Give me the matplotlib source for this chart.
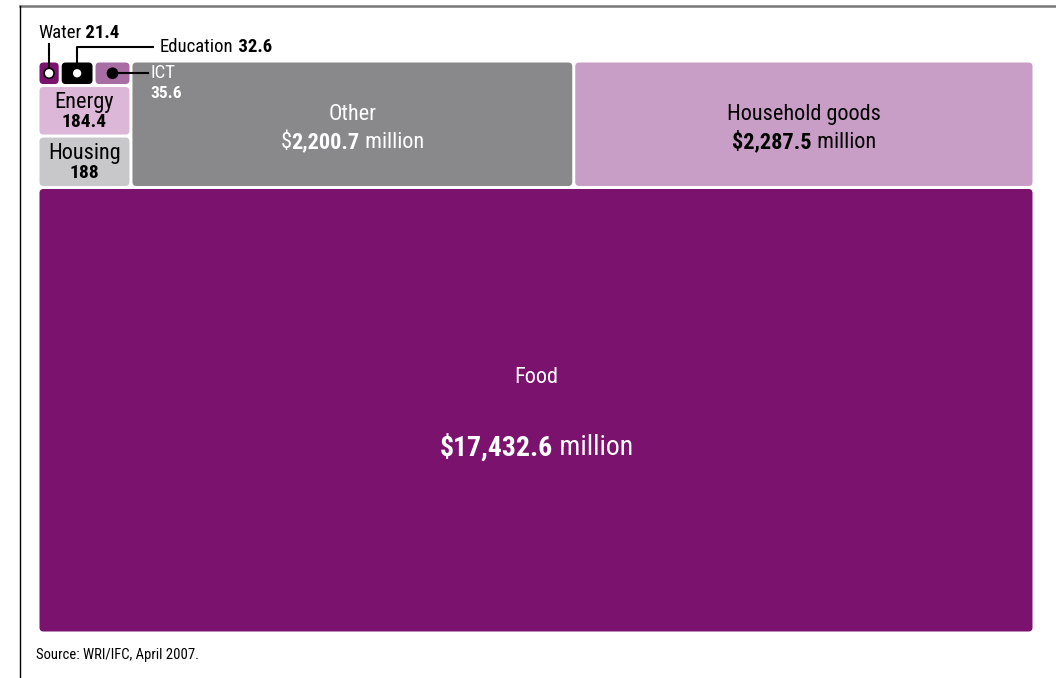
import matplotlib.pyplot as plt
from matplotlib.patches import FancyBboxPatch, Circle
from matplotlib.lines import Line2D
from matplotlib.transforms import ScaledTranslation

plt.rcParams['font.family'] = ['Roboto Condensed', 'Liberation Sans', 'DejaVu Sans']

# Spending by category, $ million
categories = ['Food', 'Household goods', 'Other', 'Housing', 'Energy', 'ICT', 'Education', 'Water']
values = [17432.6, 2287.5, 2200.7, 188, 184.4, 35.6, 32.6, 21.4]
value_text = ['17,432.6', '2,287.5', '2,200.7', '188', '184.4', '35.6', '32.6', '21.4']
colors = ['#7b126e', '#c99ec6', '#89898b', '#c8c8ca', '#dcb7d8', '#a86da3', '#000000', '#7b126e']

val = dict(zip(categories, values))
col = dict(zip(categories, colors))

W, H = 996, 572  # plotting area in pixels
fig = plt.figure(figsize=(10.56, 6.78), dpi=100)
ax = fig.add_axes([38 / 1056, 45 / 678, W / 1056, H / 678])
ax.set_xlim(0, W)
ax.set_ylim(H, 0)
ax.axis('off')

# slice-and-dice treemap layout
rects = {}


def split(groups, x, y, w, h, horizontal):
    total = sum(sum(val[c] for c in g) for g in groups)
    out = []
    for g in groups:
        s = sum(val[c] for c in g) / total
        if horizontal:
            out.append((x, y, w * s, h))
            x += w * s
        else:
            out.append((x, y, w, h * s))
            y += h * s
    return out


small_top = ['Water', 'Education', 'ICT']
small = small_top + ['Energy', 'Housing']
top = small + ['Other', 'Household goods']
top_r, food_r = split([top, ['Food']], 0, 0, W, H, False)
rects['Food'] = food_r
small_r, rects['Other'], rects['Household goods'] = split([small, ['Other'], ['Household goods']], *top_r, True)
st_r, rects['Energy'], rects['Housing'] = split([small_top, ['Energy'], ['Housing']], *small_r, False)
rects['Water'], rects['Education'], rects['ICT'] = split([['Water'], ['Education'], ['ICT']], *st_r, True)

gap = 1.5
for c in categories:
    x, y, w, h = rects[c]
    ax.add_patch(FancyBboxPatch((x + gap, y + gap), w - 2 * gap, h - 2 * gap,
                                boxstyle='round,pad=0,rounding_size=4',
                                facecolor=col[c], edgecolor='none'))

renderer = fig.canvas.get_renderer()


def rich(x, y, parts, color, size, ha='center'):
    texts = [ax.text(x, y, s, fontsize=size, fontweight=wt, color=color,
                     va='center', ha='left') for s, wt in parts]
    widths = [t.get_window_extent(renderer).width for t in texts]
    off = -sum(widths) / 2 if ha == 'center' else 0
    for t, w in zip(texts, widths):
        t.set_transform(ax.transData + ScaledTranslation(off / fig.dpi, 0, fig.dpi_scale_trans))
        off += w


def center(c):
    x, y, w, h = rects[c]
    return x + w / 2, y + h / 2


# big boxes
cx, cy = center('Food')
rich(cx, cy - 33, [('Food', 'normal')], 'white', 16)
rich(cx, cy + 37, [('$17,432.6', 'bold'), (' million', 'normal')], 'white', 20)
cx, cy = center('Other')
rich(cx, cy - 10, [('Other', 'normal')], 'white', 16)
rich(cx, cy + 18, [('$', 'normal'), ('2,200.7', 'bold'), (' million', 'normal')], 'white', 16)
cx, cy = center('Household goods')
rich(cx, cy - 10, [('Household goods', 'normal')], 'black', 16)
rich(cx, cy + 18, [('$2,287.5', 'bold'), (' million', 'normal')], 'black', 16)
for c, i in [('Energy', 4), ('Housing', 3)]:
    cx, cy = center(c)
    rich(cx, cy - 8, [(c, 'normal')], 'black', 16)
    rich(cx, cy + 11, [(value_text[i], 'bold')], 'black', 14)

# small boxes with markers and callouts
cxw, cyw = center('Water')
cxe, cye = center('Education')
cxi, cyi = center('ICT')
ax.plot([cxw, cxw], [cyw, -17], color='black', lw=1.5, zorder=3, clip_on=False)
ax.plot([cxe, cxe, 115], [cye, -14, -14], color='black', lw=1.5, zorder=3, clip_on=False)
ax.plot([cxi, 110], [cyi, cyi], color='black', lw=1.5, zorder=3, clip_on=False)
ax.add_patch(Circle((cxw, cyw), 5, facecolor='white', edgecolor='black', lw=1.2, zorder=4))
ax.add_patch(Circle((cxe, cye), 5, facecolor='white', edgecolor='black', lw=1.2, zorder=4))
ax.add_patch(Circle((cxi, cyi), 5, facecolor='black', edgecolor='black', lw=1.2, zorder=4))
rich(0, -28, [('Water', 'normal'), (' 21.4', 'bold')], 'black', 13.5, ha='left')
rich(122, -14, [('Education', 'normal'), (' 32.6', 'bold')], 'black', 13.5, ha='left')
x, y, w, h = rects['Other']
ax.text(x + 20, 12, 'ICT', fontsize=13.5, color='white', va='center', ha='left')
ax.text(x + 19, 33, '35.6', fontsize=12.5, fontweight='bold', color='white', va='center', ha='left')

# frame and source
fig.add_artist(Line2D([20 / 1056, 1], [1 - 6 / 678] * 2, color='#777777', lw=1.8))
fig.add_artist(Line2D([20 / 1056] * 2, [0, 1 - 6 / 678], color='black', lw=1))
fig.text(36 / 1056, 1 - 655 / 678, 'Source: WRI/IFC, April 2007.', fontsize=10.5, va='center', ha='left')

fig.savefig('out.png', dpi=100)
